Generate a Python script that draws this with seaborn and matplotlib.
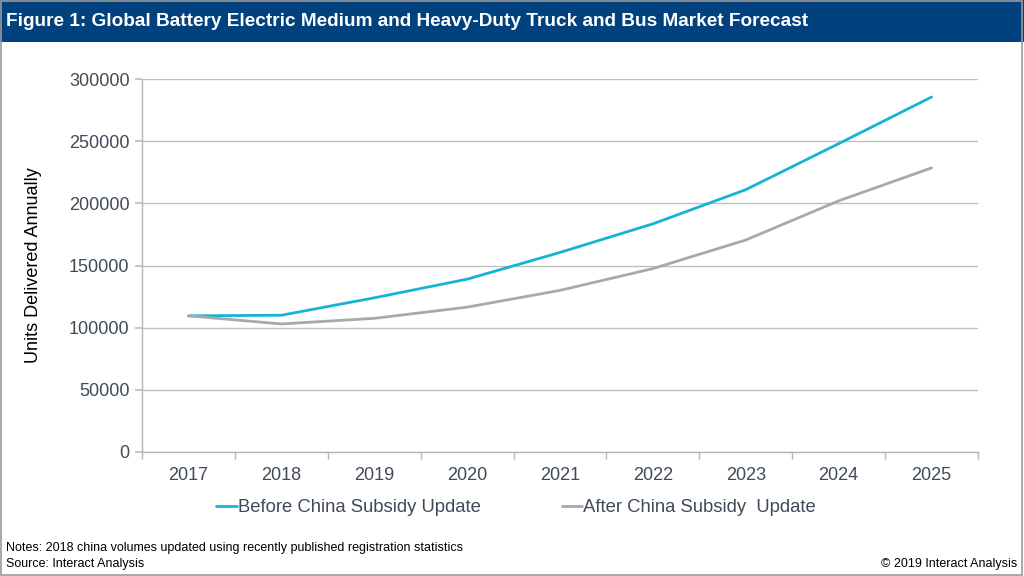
import matplotlib
matplotlib.use("Agg")
import matplotlib.pyplot as plt
from matplotlib.patches import Rectangle
from matplotlib.lines import Line2D
import seaborn as sns
import pandas as pd

years = [2017, 2018, 2019, 2020, 2021, 2022, 2023, 2024, 2025]
before = [109500, 110000, 124000, 139000, 160500, 183500, 211000, 248000, 285500]
after = [109500, 103000, 107500, 116500, 130000, 147500, 170500, 202000, 228500]
series_names = ["Before China Subsidy Update", "After China Subsidy  Update"]
colors = ["#17B3D6", "#A3AAB1"]
yticks = [0, 50000, 100000, 150000, 200000, 250000, 300000]

df = pd.DataFrame({
    "Year": years * 2,
    "Units": before + after,
    "Series": [series_names[0]] * len(years) + [series_names[1]] * len(years),
})

sns.set_theme(style="white")
plt.rcParams['font.family'] = ['Liberation Sans', 'DejaVu Sans']

fig = plt.figure(figsize=(10.24, 5.76), dpi=100)
ax = fig.add_axes([142/1024, 1 - 452/576, (978 - 142)/1024, 373/576])

sns.lineplot(data=df, x="Year", y="Units", hue="Series", palette=colors,
             linewidth=2.0, ax=ax, legend=False)

ax.set_xlim(2016.5, 2025.5)
ax.set_ylim(0, 300000)
ax.set_yticks(yticks)
ax.set_yticklabels([str(v) for v in yticks])
ax.set_xticks(years)
ax.set_xticklabels([str(y) for y in years])
ax.set_xticks([y + 0.5 for y in [2016] + years], minor=True)
ax.grid(axis="y", color="#C0C0C0", linewidth=1.0)
ax.set_axisbelow(True)
for s in ["top", "right"]:
    ax.spines[s].set_visible(False)
for s in ["left", "bottom"]:
    ax.spines[s].set_color("#B5B5B5")
    ax.spines[s].set_linewidth(1.0)
ax.tick_params(axis="y", which="major", left=True, length=5, color="#C0C0C0",
               labelsize=13, labelcolor="#404A58", pad=4)
ax.tick_params(axis="x", which="major", bottom=False, labelsize=13,
               labelcolor="#404A58", pad=5)
ax.tick_params(axis="x", which="minor", bottom=True, length=5, color="#B5B5B5")
ax.set_xlabel("")
ax.set_ylabel("Units Delivered Annually", fontsize=13, color="#000000", labelpad=19)

# legend
handles = [Line2D([0], [0], color=c, linewidth=2.0) for c in colors]
leg = fig.legend(handles, series_names, loc="center", bbox_to_anchor=(516/1024, 1 - 508/576),
                 ncol=2, frameon=False, fontsize=13.3, handlelength=1.1,
                 handletextpad=0.05, columnspacing=4.4)
for t in leg.get_texts():
    t.set_color("#404A58")

# title bar and border
fig.patches.append(Rectangle((0, 1 - 42/576), 1, 42/576, transform=fig.transFigure,
                             facecolor="#00417E", edgecolor="none", zorder=0))
fig.patches.append(Rectangle((0.001, 0.002), 0.997, 0.996, transform=fig.transFigure,
                             facecolor="none", edgecolor="#9A9A9A", linewidth=1.2, zorder=1))
fig.text(6/1024, 1 - 21/576, "Figure 1: Global Battery Electric Medium and Heavy-Duty Truck and Bus Market Forecast",
         color="white", fontsize=13.7, fontweight="bold", va="center", ha="left")

fig.text(6/1024, 1 - 548/576, "Notes: 2018 china volumes updated using recently published registration statistics",
         fontsize=9, va="center", ha="left", color="#000000")
fig.text(6/1024, 1 - 564/576, "Source: Interact Analysis",
         fontsize=9, va="center", ha="left", color="#000000")
fig.text(1017/1024, 1 - 564/576, "\u00a9 2019 Interact Analysis",
         fontsize=9, va="center", ha="right", color="#000000")

fig.savefig("out.png", dpi=100)
